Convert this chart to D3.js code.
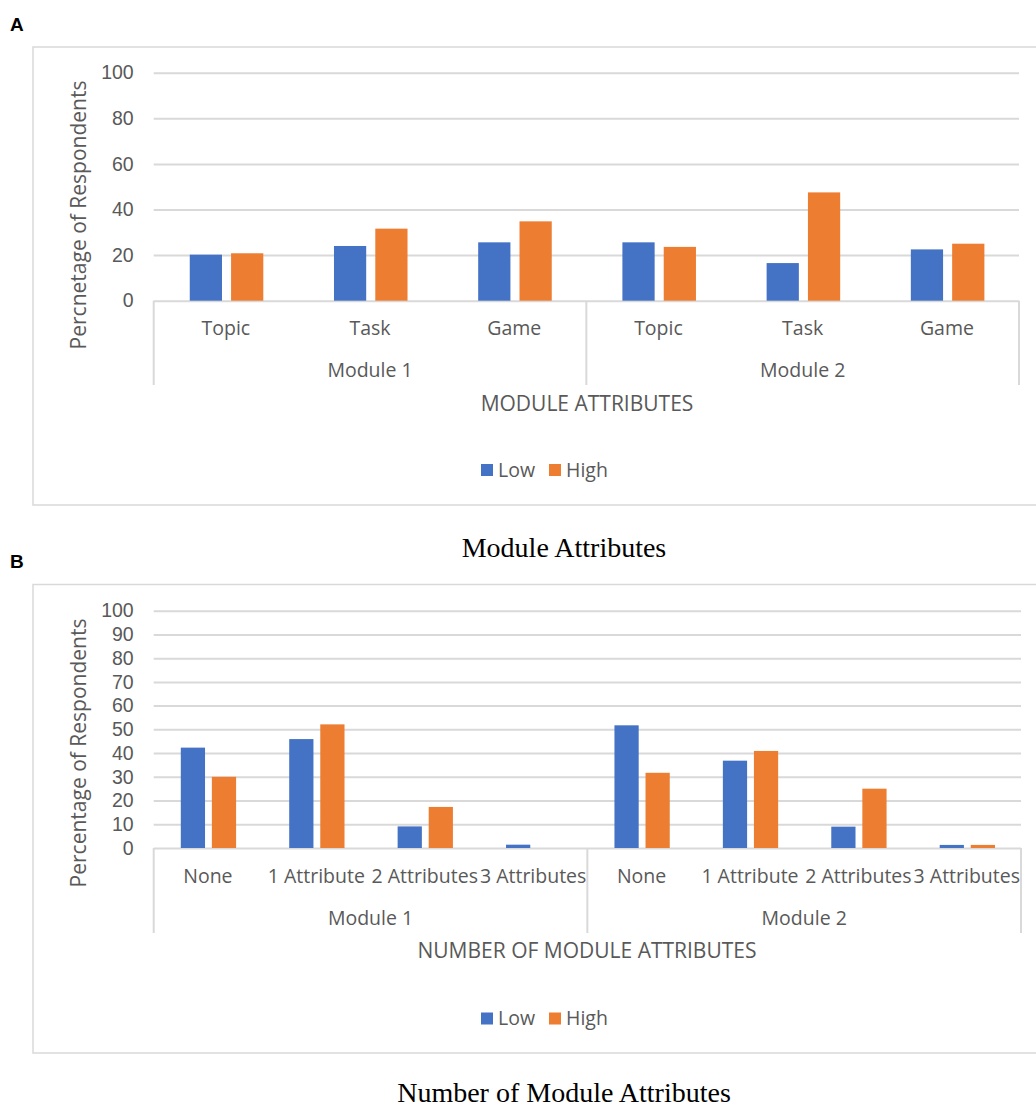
<!DOCTYPE html>
<html>
<head>
<meta charset="utf-8">
<script src="https://cdn.jsdelivr.net/npm/d3@7"></script>
<style>
  html, body { margin: 0; padding: 0; background: #fff; }
  svg text { font-family: "Open Sans", "Noto Sans", sans-serif; }
</style>
</head>
<body>
<svg id="chart" width="1036" height="1108"></svg>
<script>
// Series shared by both panels
const seriesNames = ["Low", "High"];
const seriesColors = ["#4472C4", "#ED7D31"];
const moduleNames = ["Module 1", "Module 2"];

// Panel A: module attributes
const attrCategories = ["Topic", "Task", "Game"];
const attrLow  = [20.2, 24.0, 25.6, 25.6, 16.5, 22.5];
const attrHigh = [20.8, 31.6, 34.8, 23.6, 47.5, 25.0];
const attrTicks = [0, 20, 40, 60, 80, 100];

// Panel B: number of module attributes
const countCategories = ["None", "1 Attribute", "2 Attributes", "3 Attributes"];
const countLow  = [42.3, 45.9, 9.1, 1.4, 51.7, 36.8, 9.0, 1.3];
const countHigh = [30.0, 52.1, 17.3, 0.0, 31.7, 40.9, 25.0, 1.3];
const countTicks = [0, 10, 20, 30, 40, 50, 60, 70, 80, 90, 100];

const svg = d3.select("#chart");
const textColor = "#595959";
const gridColor = "#d9d9d9";
const labelSize = "19.5px";
const titleSize = "21px";

function drawPanel(opt) {
  const g = svg.append("g");

  // outer chart-area frame
  g.append("rect")
    .attr("x", 33).attr("y", opt.frameTop)
    .attr("width", 1100).attr("height", opt.frameBottom - opt.frameTop)
    .attr("fill", "none").attr("stroke", gridColor).attr("stroke-width", 1.5);

  // panel letter
  g.append("text")
    .attr("x", 10).attr("y", opt.letterY)
    .style("font-family", "'Liberation Sans', Arial, sans-serif")
    .style("font-weight", "bold").style("font-size", "19px")
    .attr("fill", "#000").text(opt.letter);

  const nCat = opt.categories.length;
  const rows = [];
  moduleNames.forEach((m, mi) => opt.categories.forEach((c, ci) => {
    const i = mi * nCat + ci;
    rows.push({ key: i, module: m, cat: c, Low: opt.low[i], High: opt.high[i] });
  }));

  const x = d3.scaleBand().domain(rows.map(d => d.key))
    .range([opt.left, opt.right]).padding(0);
  const step = x.step();
  const xInner = d3.scaleBand().domain(seriesNames)
    .range([0.25 * step, 0.76 * step]).paddingInner(0.22);
  const y = d3.scaleLinear().domain([0, 100]).range([opt.bottom, opt.top]);

  // value axis with gridlines
  const yAxis = d3.axisLeft(y).tickValues(opt.ticks)
    .tickSize(-(opt.right - opt.left)).tickPadding(20);
  const ya = g.append("g").attr("transform", `translate(${opt.left},0)`).call(yAxis);
  ya.select(".domain").remove();
  ya.selectAll(".tick line").attr("stroke", gridColor).attr("stroke-width", 2);
  ya.selectAll(".tick text").attr("fill", textColor)
    .style("font-family", "'Liberation Sans', Arial, sans-serif")
    .style("font-size", labelSize);

  // bars
  const color = d3.scaleOrdinal().domain(seriesNames).range(seriesColors);
  g.append("g").selectAll("g").data(rows).join("g")
    .attr("transform", d => `translate(${x(d.key)},0)`)
    .selectAll("rect")
    .data(d => seriesNames.map(s => ({ s, v: d[s] })))
    .join("rect")
    .attr("x", d => xInner(d.s))
    .attr("width", xInner.bandwidth())
    .attr("y", d => y(d.v))
    .attr("height", d => y(0) - y(d.v))
    .attr("fill", d => color(d.s));

  // category axis: category row, module row and separators
  const catAxis = d3.axisBottom(x).tickSize(0).tickPadding(0)
    .tickFormat(k => rows[k].cat);
  const ca = g.append("g").attr("transform", `translate(0,${opt.catY})`).call(catAxis);
  ca.select(".domain").remove();
  ca.selectAll(".tick text").attr("fill", textColor)
    .style("font-size", labelSize).attr("dy", "0.35em").attr("y", 0);

  const xMod = d3.scaleBand().domain(moduleNames).range([opt.left, opt.right]);
  g.append("g").selectAll("text").data(moduleNames).join("text")
    .attr("x", d => xMod(d) + xMod.bandwidth() / 2)
    .attr("y", opt.modY).attr("dy", "0.35em")
    .attr("text-anchor", "middle").attr("fill", textColor)
    .style("font-size", labelSize).text(d => d);

  const seps = [opt.left, xMod(moduleNames[1]), opt.right];
  g.append("g").selectAll("line").data(seps).join("line")
    .attr("x1", d => d).attr("x2", d => d)
    .attr("y1", opt.bottom).attr("y2", opt.sepBottom)
    .attr("stroke", gridColor).attr("stroke-width", 2);

  // axis titles
  g.append("text")
    .attr("transform", `translate(79,${opt.yTitleY}) rotate(-90)`)
    .attr("dy", "0.35em").attr("text-anchor", "middle")
    .attr("fill", textColor).style("font-size", titleSize).text(opt.yTitle);

  g.append("text")
    .attr("x", 587).attr("y", opt.xTitleY).attr("dy", "0.35em")
    .attr("text-anchor", "middle").attr("fill", textColor)
    .style("font-size", titleSize).text(opt.xTitle);

  // legend
  const leg = g.append("g").attr("transform", `translate(481,${opt.legendY})`);
  const legOffsets = [0, 68];
  seriesNames.forEach((s, i) => {
    leg.append("rect").attr("x", legOffsets[i]).attr("y", -6)
      .attr("width", 12).attr("height", 12).attr("fill", color(s));
    leg.append("text").attr("x", legOffsets[i] + 17).attr("y", 0)
      .attr("dy", "0.35em").attr("fill", textColor)
      .style("font-size", labelSize).text(s);
  });

  // caption below the chart area
  svg.append("text")
    .attr("x", 564).attr("y", opt.captionBaseline)
    .attr("text-anchor", "middle").attr("fill", "#000")
    .style("font-family", "'Liberation Serif', 'Times New Roman', serif")
    .style("font-size", "28px").text(opt.caption);
}

drawPanel({
  letter: "A", letterY: 31,
  frameTop: 47, frameBottom: 505,
  categories: attrCategories, low: attrLow, high: attrHigh, ticks: attrTicks,
  left: 153.7, right: 1019, top: 72.7, bottom: 300.7,
  catY: 328, modY: 370.5, sepBottom: 385,
  yTitle: "Percnetage of Respondents", yTitleY: 215,
  xTitle: "MODULE ATTRIBUTES", xTitleY: 404,
  legendY: 470,
  caption: "Module Attributes", captionBaseline: 557
});

drawPanel({
  letter: "B", letterY: 568,
  frameTop: 584.5, frameBottom: 1053,
  categories: countCategories, low: countLow, high: countHigh, ticks: countTicks,
  left: 153.7, right: 1021, top: 610.7, bottom: 848,
  catY: 876.5, modY: 918, sepBottom: 933,
  yTitle: "Percentage of Respondents", yTitleY: 753,
  xTitle: "NUMBER OF MODULE ATTRIBUTES", xTitleY: 950.5,
  legendY: 1018.5,
  caption: "Number of Module Attributes", captionBaseline: 1102
});
</script>
</body>
</html>
